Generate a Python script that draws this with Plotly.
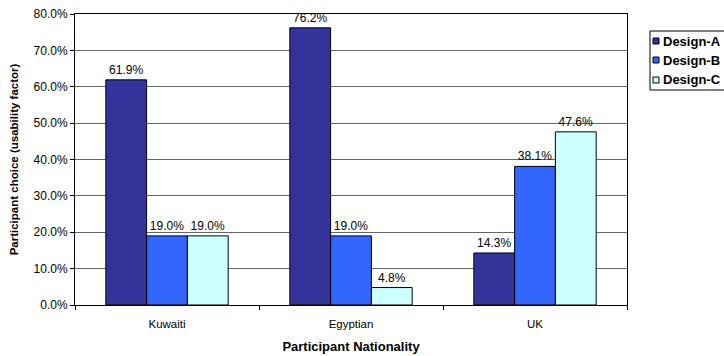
import plotly.graph_objects as go

categories = ["Kuwaiti", "Egyptian", "UK"]
series_names = ["Design-A", "Design-B", "Design-C"]
design_a = [61.9, 76.2, 14.3]
design_b = [19.0, 19.0, 38.1]
design_c = [19.0, 4.8, 47.6]
colors = ["#333399", "#3366FF", "#CCFFFF"]

W, H = 724, 356
ML, MR, MT, MB = 75, 97, 14, 51
PW, PH = W - ML - MR, H - MT - MB

def px(p):
    return (p - ML) / PW

def py(q):
    return (H - MB - q) / PH

FONT = "Liberation Sans, Arial, sans-serif"

fig = go.Figure()
for name, vals, col in zip(series_names, [design_a, design_b, design_c], colors):
    fig.add_trace(go.Bar(
        x=categories, y=vals, name=name,
        marker=dict(color=col, line=dict(color="black", width=1)),
        text=[f"{v:.1f}%" for v in vals], textposition="outside",
        textfont=dict(family=FONT, size=12, color="black"),
        cliponaxis=False, showlegend=False,
    ))

# manual legend (box, swatches, labels)
shapes = [dict(type="rect", xref="paper", yref="paper",
               x0=px(650), x1=px(740), y0=py(90), y1=py(31),
               line=dict(color="black", width=1), fillcolor="white")]
annotations = []
row_y = [41, 60, 80]
for name, col, ry in zip(series_names, colors, row_y):
    shapes.append(dict(type="rect", xref="paper", yref="paper",
                       x0=px(653), x1=px(659), y0=py(ry + 3), y1=py(ry - 3),
                       line=dict(color="black", width=1), fillcolor=col))
    annotations.append(dict(xref="paper", yref="paper", x=px(661), y=py(ry),
                            xanchor="left", yanchor="middle", showarrow=False,
                            text=f"<b>{name}</b>",
                            font=dict(family=FONT, size=13, color="black")))

fig.update_layout(
    width=W, height=H,
    margin=dict(l=ML, r=MR, t=MT, b=MB, autoexpand=False),
    barmode="group", bargap=0.335, bargroupgap=0,
    plot_bgcolor="white", paper_bgcolor="white",
    font=dict(family=FONT, size=12, color="black"),
    showlegend=False,
    shapes=shapes, annotations=annotations,
)
fig.update_yaxes(
    range=[0, 80], dtick=10, ticksuffix="%", tickformat=".1f",
    showgrid=True, gridcolor="#666666", gridwidth=1,
    ticks="outside", ticklen=4, tickcolor="black",
    showline=True, linecolor="black", mirror=True, linewidth=1,
    zeroline=False, tickfont=dict(size=12),
    title=dict(text="<b>Participant choice (usability factor)</b>", font=dict(size=11.5), standoff=12),
)
fig.update_xaxes(
    tickson="boundaries", ticks="outside", ticklen=4, tickcolor="black",
    showline=True, linecolor="black", mirror=True, linewidth=1,
    tickfont=dict(size=11.5), ticklabelstandoff=8,
    title=dict(text="<b>Participant Nationality</b>", font=dict(size=13), standoff=13),
)
fig.write_html("out.html")
